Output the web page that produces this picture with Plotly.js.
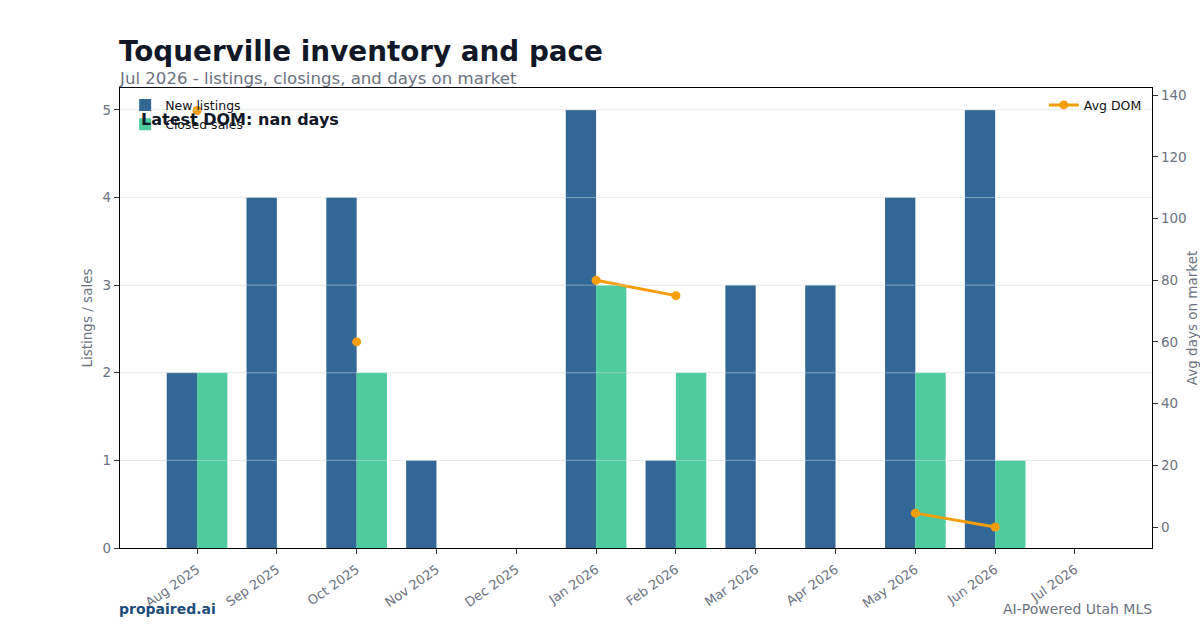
<!DOCTYPE html>
<html>
<head>
<meta charset="utf-8">
<script src="https://cdn.plot.ly/plotly-3.0.1.min.js"></script>
<style>html,body{margin:0;padding:0;background:#fff;}#chart{width:1200px;height:630px;}</style>
</head>
<body>
<div id="chart"></div>
<script>
const months = ["Aug 2025","Sep 2025","Oct 2025","Nov 2025","Dec 2025","Jan 2026","Feb 2026","Mar 2026","Apr 2026","May 2026","Jun 2026","Jul 2026"];
const newListings = [2,4,4,1,0,5,1,3,3,4,5,0];
const closedSales = [2,0,2,0,0,3,2,0,0,2,1,0];
const avgDom = [135,null,60,null,null,80,75,null,null,4.5,0,null];
const gridVals = [1,2,3,4,5];

const fontFam = "DejaVu Sans, sans-serif";
const gray = "#6b7280";

const traces = [
  {type:"bar", name:"New listings", x:months, y:newListings, marker:{color:"#336795"}, legend:"legend", hoverinfo:"skip"},
  {type:"bar", name:"Closed sales", x:months, y:closedSales, marker:{color:"#4ecca0"}, legend:"legend", hoverinfo:"skip"},
  {type:"scatter", mode:"lines+markers", name:"Avg DOM", x:months, y:avgDom, yaxis:"y2", connectgaps:false,
   line:{color:"#f59e0b", width:3}, marker:{color:"#f59e0b", size:9}, legend:"legend2", hoverinfo:"skip"}
];

const shapes = gridVals.map(v => ({type:"line", xref:"paper", x0:0, x1:1, yref:"y", y0:v, y1:v,
  line:{color:"rgba(225,230,235,0.45)", width:1}, layer:"above"}));

const layout = {
  width:1200, height:630,
  margin:{l:120, r:48, t:88, b:82},
  paper_bgcolor:"#ffffff", plot_bgcolor:"#ffffff",
  font:{family:fontFam, color:gray, size:13},
  barmode:"group", bargap:0.24, bargroupgap:0,
  showlegend:true,
  xaxis:{type:"category", range:[-0.965, 11.965], tickangle:-35, ticks:"outside", ticklen:5, tickcolor:"#333",
    ticklabelstandoff:3,
    showline:true, linecolor:"#000", linewidth:1.2, mirror:true, showgrid:false,
    tickfont:{size:13, color:gray}},
  yaxis:{range:[0,5.25], dtick:1, ticks:"outside", ticklen:5, tickcolor:"#333",
    showline:true, linecolor:"#000", linewidth:1.2, mirror:true, showgrid:true, gridcolor:"#f0f0f0",
    zeroline:false, tickfont:{size:13.5, color:gray},
    title:{text:"Listings / sales", font:{size:13.5, color:gray}, standoff:6}},
  yaxis2:{overlaying:"y", side:"right", range:[-6.8,142.3], tickvals:[0,20,40,60,80,100,120,140],
    ticks:"outside", ticklen:5, tickcolor:"#333", showgrid:false, zeroline:false,
    showline:true, linecolor:"#000", linewidth:1.2,
    tickfont:{size:13.5, color:gray},
    title:{text:"Avg days on market", font:{size:13.5, color:gray}, standoff:19}},
  legend:{x:0.005, y:0.995, xanchor:"left", yanchor:"top", bgcolor:"rgba(255,255,255,0)",
    font:{size:12.5, color:"#111"}, tracegroupgap:2},
  legend2:{x:0.995, y:0.995, xanchor:"right", yanchor:"top", bgcolor:"rgba(255,255,255,0)",
    font:{size:12.5, color:"#111"}},
  shapes: shapes,
  annotations:[
    {xref:"paper", yref:"paper", x:0, y:1, xanchor:"left", yanchor:"bottom", xshift:-3, yshift:18,
     text:"<b>Toquerville inventory and pace</b>", showarrow:false, font:{size:27.8, color:"#111827"}},
    {xref:"paper", yref:"paper", x:0, y:1, xanchor:"left", yanchor:"bottom", xshift:-3, yshift:-2,
     text:"Jul 2026 - listings, closings, and days on market", showarrow:false, font:{size:16.6, color:gray}},
    {xref:"paper", yref:"paper", x:0.02, y:0.97, xanchor:"left", yanchor:"top", xshift:-2, yshift:-6,
     text:"<b>Latest DOM: nan days</b>", showarrow:false, font:{size:16, color:"#111827"}},
    {xref:"paper", yref:"paper", x:0, y:0, xanchor:"left", yanchor:"middle", xshift:-3, yshift:-61,
     text:"<b>propaired.ai</b>", showarrow:false, font:{size:14, color:"#1e4d7b"}},
    {xref:"paper", yref:"paper", x:1, y:0, xanchor:"right", yanchor:"middle", xshift:2, yshift:-61,
     text:"AI-Powered Utah MLS", showarrow:false, font:{size:14, color:gray}}
  ]
};

Plotly.newPlot("chart", traces, layout, {staticPlot:true, displayModeBar:false});
</script>
</body>
</html>
